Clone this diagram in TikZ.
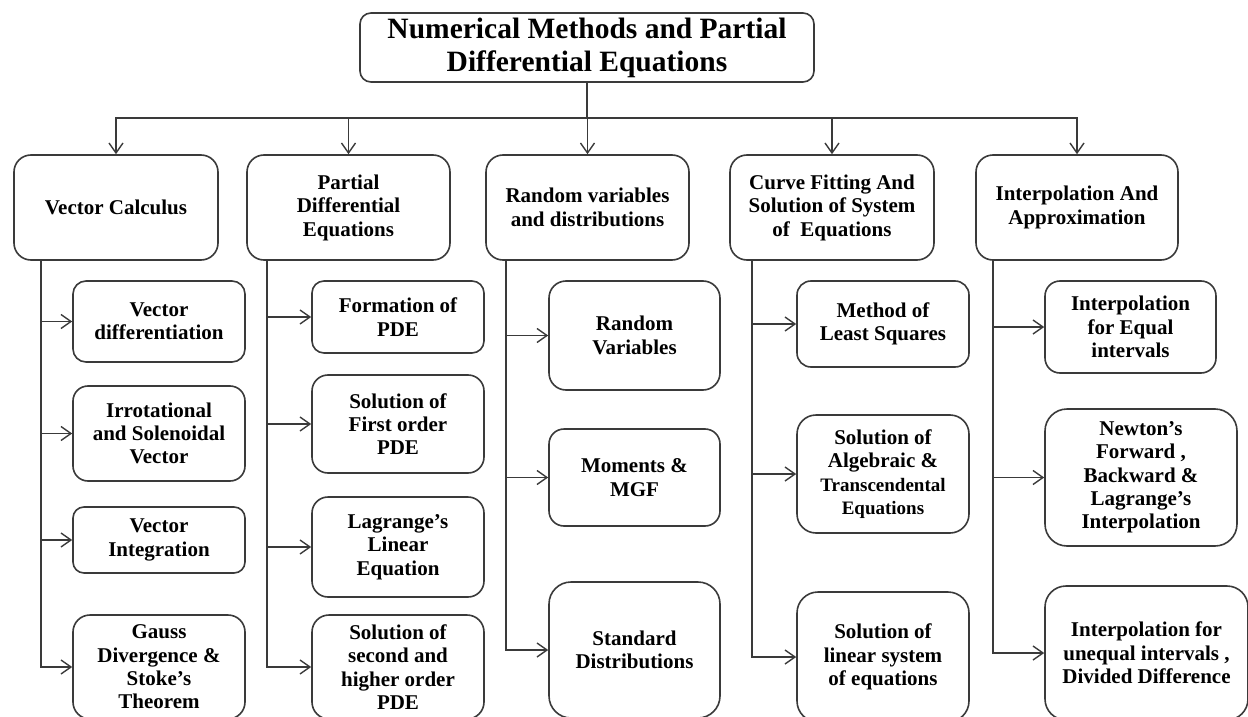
\documentclass[tikz,border=0pt]{standalone}
\usepackage{fontspec}
\setmainfont{Liberation Serif}
\usetikzlibrary{arrows.meta}
\definecolor{ln}{HTML}{3A3A3A}
\begin{document}
\begin{tikzpicture}[x=1pt,y=-1pt,
  box/.style={draw=ln, line width=1.6pt, rounded corners=#1, align=center,
    inner sep=0pt, fill=white, text=black},
  titlebox/.style={box=11pt, font=\bfseries\fontsize{29.5}{33}\selectfont},
  catbox/.style={box=17pt, minimum height=105pt, font=\bfseries\fontsize{21}{23.5}\selectfont},
  leaf/.style={box=#1, font=\bfseries\fontsize{21}{23.3}\selectfont},
  link/.style={draw=ln, line width=1.4pt},
  arr/.style={link, -{Straight Barb[length=10pt,width=14pt,line width=1.4pt]}}
]
\useasboundingbox (0,0) rectangle (1248,717);
\clip (0,0) rectangle (1248,717);

% root
\node[titlebox, minimum width=454pt, minimum height=69pt] (root) at (587,47.5)
  {Numerical Methods and Partial\\Differential Equations};

% main branches
\node[catbox, minimum width=204pt] (vc)  at (116,207.5)   {Vector Calculus};
\node[catbox, minimum width=203pt] (pde) at (348.5,207.5) {Partial\\Differential\\Equations};
\node[catbox, minimum width=203pt] (rv)  at (587.5,207.5) {Random variables\\and distributions};
\node[catbox, minimum width=204pt] (cf)  at (832,207.5)   {Curve Fitting And\\Solution of System\\of~ Equations};
\node[catbox, minimum width=202pt] (ia)  at (1077,207.5)  {Interpolation And\\Approximation};

% vector calculus topics
\node[leaf=13pt, minimum width=172pt, minimum height=81pt]  (a1) at (159,321.5) {Vector\\differentiation};
\node[leaf=15pt, minimum width=172pt, minimum height=95pt]  (a2) at (159,433.5) {Irrotational\\and Solenoidal\\Vector};
\node[leaf=11pt, minimum width=172pt, minimum height=66pt]  (a3) at (159,540)   {Vector\\Integration};
\node[leaf=17pt, minimum width=172pt, minimum height=104pt] (a4) at (159,667)   {Gauss\\Divergence \&\\Stoke’s\\Theorem};

% PDE topics
\node[leaf=12pt, minimum width=172pt, minimum height=72pt]  (b1) at (398,317) {Formation of\\PDE};
\node[leaf=16pt, minimum width=172pt, minimum height=98pt]  (b2) at (398,424) {Solution of\\First order\\PDE};
\node[leaf=16pt, minimum width=172pt, minimum height=100pt] (b3) at (398,547) {Lagrange’s\\Linear\\Equation};
\node[leaf=17pt, minimum width=172pt, minimum height=104pt] (b4) at (398,667) {Solution of\\second and\\higher order\\PDE};

% random variable topics
\node[leaf=17pt, minimum width=171pt, minimum height=109pt] (c1) at (634.5,335.5) {Random\\Variables};
\node[leaf=15pt, minimum width=171pt, minimum height=97pt]  (c2) at (634.5,477.5) {Moments \&\\MGF};
\node[leaf=22pt, minimum width=171pt, minimum height=136pt] (c3) at (634.5,650)   {Standard\\Distributions};

% curve fitting topics
\node[leaf=14pt, minimum width=172pt, minimum height=86pt]  (d1) at (883,324) {Method of\\Least Squares};
\node[leaf=19pt, minimum width=172pt, minimum height=118pt] (d2) at (883,474)
  {Solution of\\Algebraic \&\\{\fontsize{19}{21.5}\selectfont Transcendental}\\{\fontsize{19}{21.5}\selectfont Equations}};
\node[leaf=21pt, minimum width=172pt, minimum height=130pt] (d3) at (883,657) {Solution of\\linear system\\of equations};

% interpolation topics
\node[leaf=15pt, minimum width=171pt, minimum height=92pt]  (e1) at (1130.5,327) {Interpolation\\for Equal\\intervals};
\node[leaf=22pt, minimum width=192pt, minimum height=137pt] (e2) at (1141,477.5) {Newton’s\\Forward ,\\Backward \&\\Lagrange’s\\Interpolation};
\node[leaf=21pt, minimum width=203pt, minimum height=134pt] (e3) at (1146.5,653) {Interpolation for\\unequal intervals ,\\Divided Difference};

% root to branches
\coordinate (bus) at (587,118);
\draw[link] (root.south) -- (bus);
\foreach \n in {vc,pde,rv,cf,ia} \draw[arr] (bus) -| (\n.north);

% branch trunks
\coordinate (t1) at (41,260);
\coordinate (t2) at (267,260);
\coordinate (t3) at (506,260);
\coordinate (t4) at (752,260);
\coordinate (t5) at (993,260);
\foreach \n in {a1,a2,a3,a4} \draw[arr] (t1) |- (\n.west);
\foreach \n in {b1,b2,b3,b4} \draw[arr] (t2) |- (\n.west);
\foreach \n in {c1,c2,c3} \draw[arr] (t3) |- (\n.west);
\foreach \n in {d1,d2,d3} \draw[arr] (t4) |- (\n.west);
\foreach \n in {e1,e2,e3} \draw[arr] (t5) |- (\n.west);
\end{tikzpicture}
\end{document}
